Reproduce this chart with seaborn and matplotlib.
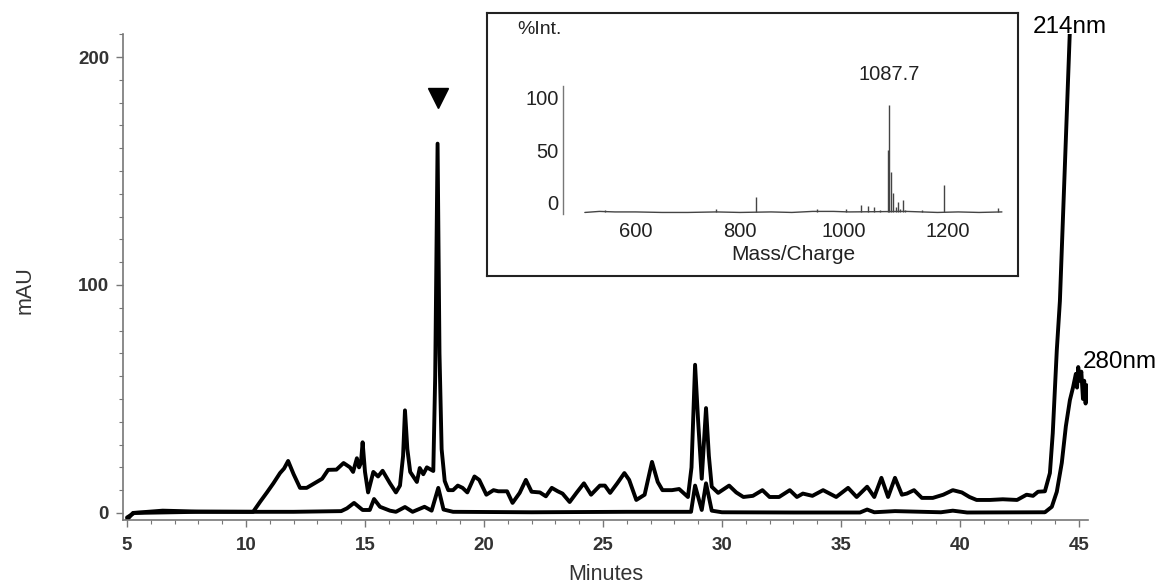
import numpy as np
import pandas as pd
import matplotlib
matplotlib.use('Agg')
import matplotlib.pyplot as plt
import seaborn as sns

# HPLC trace at 214 nm (minutes, mAU)
t214 = [5.0, 5.25, 6.5, 8.0, 10.3, 10.6, 10.88, 11.15, 11.43, 11.6,
        11.77, 12.0, 12.27, 12.55, 12.97, 13.2, 13.45, 13.8, 14.1, 14.37,
        14.5, 14.58, 14.66, 14.75, 14.83, 14.9, 15.0, 15.13, 15.35, 15.55,
        15.74, 16.05, 16.3, 16.47, 16.6, 16.68, 16.78, 16.9, 17.18, 17.3,
        17.45, 17.6, 17.87, 17.95, 18.05, 18.13, 18.22, 18.35, 18.5, 18.7,
        18.9, 19.1, 19.3, 19.6, 19.8, 20.1, 20.4, 20.6, 20.97, 21.2,
        21.5, 21.76, 22.0, 22.35, 22.6, 22.85, 23.1, 23.3, 23.6, 23.9,
        24.2, 24.5, 24.87, 25.08, 25.3, 25.6, 25.9, 26.1, 26.4, 26.75,
        27.06, 27.3, 27.5, 27.9, 28.2, 28.57, 28.72, 28.87, 29.0, 29.15,
        29.33, 29.45, 29.57, 29.84, 30.3, 30.6, 30.9, 31.3, 31.7, 32.0,
        32.4, 32.85, 33.15, 33.4, 33.8, 34.25, 34.8, 35.3, 35.66, 36.1,
        36.4, 36.7, 36.98, 37.27, 37.56, 37.77, 38.07, 38.4, 38.86, 39.3,
        39.7, 40.08, 40.4, 40.7, 41.26, 41.8, 42.4, 42.8, 43.07, 43.28,
        43.57, 43.78, 43.9, 44.07, 44.2, 44.4, 44.62]
v214 = [-3, 0, 1, 0.6, 0.5, 5, 9, 13, 17.5, 19.5,
        22.8, 17, 11, 11, 13.6, 15, 18.9, 19, 21.9, 20,
        18, 21, 24, 20, 22, 31, 18, 9, 18, 16,
        18.5, 13, 9, 12, 25, 45, 28, 18, 13.6, 19.7,
        17, 20, 18.4, 60, 162, 70, 28, 14, 10, 10,
        12, 11, 9, 16, 14.5, 8, 10, 9.5, 9.5, 4.4,
        8.8, 14.5, 9.3, 9, 7.3, 11, 9.5, 8.5, 4.8, 9,
        13, 8, 12, 12, 8.8, 13, 17.5, 14.5, 5.7, 8,
        22.4, 13.6, 10, 10, 10.5, 7, 20, 65, 40, 15,
        46, 25, 11.5, 8.8, 12, 9, 7, 7.5, 10, 7,
        7, 10, 7, 8.5, 7.5, 10, 7, 11, 7, 11.5,
        7, 15.4, 7, 15.4, 8, 8.5, 10, 6.6, 6.6, 8,
        10, 9, 7, 5.7, 5.7, 6, 5.7, 8, 7.5, 9.3,
        9.5, 17.5, 35, 71.5, 93, 150, 212]

# HPLC trace at 280 nm
t280 = [5.0, 5.3, 8.0, 10.0, 12.0, 14.0, 14.24, 14.54, 14.9, 15.2,
        15.38, 15.63, 16.05, 16.3, 16.68, 17.0, 17.5, 17.8, 18.08, 18.3,
        18.7, 22.0, 26.0, 28.7, 28.87, 29.15, 29.33, 29.57, 30.0, 33.0,
        35.8, 36.1, 36.4, 37.27, 39.2, 39.7, 40.3, 43.57, 43.86, 44.07,
        44.28, 44.45, 44.62, 44.75, 44.87, 44.92, 44.97, 45.03, 45.1, 45.17,
        45.22, 45.28, 45.33]
v280 = [-2, 0, 0.5, 0.5, 0.5, 0.8, 2, 4.4, 1.3, 1.3,
        6.1, 2.7, 1, 0.5, 2.6, 0.5, 2.7, 1, 11, 1.5,
        0.5, 0.3, 0.5, 0.5, 12, 1.3, 13, 1, 0.3, 0.2,
        0.2, 1.5, 0.3, 0.8, 0.3, 1, 0.2, 0.3, 2.7, 9.3,
        22, 38, 49.5, 55, 61, 55, 64, 58, 62, 50,
        58, 48, 56]

# collected fraction marker
marker_time = 18.05
marker_mau = 182

# MS spectrum of the fraction (m/z, %Int.)
mz_base = [502, 530, 560, 600, 650, 700, 755, 800, 860, 900,
           940, 980, 1010, 1120, 1150, 1180, 1220, 1260, 1304]
int_base = [-10, -9, -9.5, -9.5, -10, -10, -9.5, -10, -9.5, -10,
            -9, -9, -9.5, -9, -9.5, -10, -9.5, -10, -9.5]
peak_mz = [540, 755, 831, 948, 1005, 1033, 1046, 1058, 1069, 1084.5,
           1087.7, 1090.5, 1094, 1100, 1104, 1108, 1113, 1117, 1150, 1192, 1296]
peak_int = [-8, -7, 5, -7, -7, -3, -4, -5, -8, 50,
            93, 29, 9, -5, 0, -7, 2, -8, -8, 16, -6]
ms_label = '1087.7'

df = pd.concat([
    pd.DataFrame({'time': t214, 'mAU': v214, 'trace': '214nm'}),
    pd.DataFrame({'time': t280, 'mAU': v280, 'trace': '280nm'}),
])

sns.set_theme(style='ticks')
plt.rcParams['font.family'] = ['Liberation Sans', 'DejaVu Sans']

fig = plt.figure(figsize=(11.7, 5.86), dpi=100)
ax = fig.add_axes([0.1051, 0.1126, 0.8248, 0.8294])

sns.lineplot(data=df, x='time', y='mAU', hue='trace',
             palette={'214nm': 'black', '280nm': 'black'},
             estimator=None, legend=False, linewidth=2.8, ax=ax,
             solid_joinstyle='round', solid_capstyle='round')
ax.plot(marker_time, marker_mau, marker='v', ms=14, color='black')

ax.set_xlim(4.83, 45.38)
ax.set_ylim(-3.1, 210.1)
ax.set_xticks(np.arange(5, 46, 5))
ax.set_xticks(np.arange(5, 46, 1), minor=True)
ax.set_yticks([0, 100, 200])
ax.set_yticks(np.arange(0, 211, 10), minor=True)
sns.despine(ax=ax)
for s in ['left', 'bottom']:
    ax.spines[s].set_color('#777777')
    ax.spines[s].set_linewidth(1.2)
ax.tick_params(which='major', length=5, width=1, color='#777777', labelcolor='#333333')
ax.tick_params(which='minor', length=3, width=0.8, color='#777777')
ax.tick_params(axis='x', which='major', pad=7)
ax.tick_params(axis='y', which='major', pad=5)
for lab in ax.get_xticklabels() + ax.get_yticklabels():
    lab.set_fontsize(13.5)
    lab.set_fontweight('bold')

ax.set_xlabel('Minutes', fontsize=15.5, color='#333333')
ax.xaxis.set_label_coords(0.5, -0.09)
ax.set_ylabel('')
fig.text(0.021, 0.505, 'mAU', rotation=90, fontsize=15.5, color='#333333',
         ha='center', va='center')

ax.text(43.07, 210.5, '214nm', fontsize=17.5, color='black', clip_on=False)
ax.text(45.17, 63.6, '280nm', fontsize=17.5, color='black', clip_on=False)

# inset frame
frame = fig.add_axes([0.4162, 0.529, 0.4538, 0.4488])
frame.set_xticks([])
frame.set_yticks([])
frame.set_facecolor('white')
for s in frame.spines.values():
    s.set_color('#222222')
    s.set_linewidth(1.5)

ins = fig.add_axes([0.4812, 0.6348, 0.3778, 0.2184])
ins.set_facecolor('none')
ins.plot(mz_base, int_base, color='#444444', lw=1)
ins.vlines(peak_mz, -10, peak_int, color='#444444', lw=1)
ins.set_xlim(460, 1310)
ins.set_ylim(-11.5, 111.5)
ins.set_xticks([600, 800, 1000, 1200])
ins.set_yticks([0, 50, 100])
for s in ['top', 'right', 'bottom']:
    ins.spines[s].set_visible(False)
ins.spines['left'].set_color('#777777')
ins.spines['left'].set_linewidth(1)
ins.tick_params(axis='x', length=0, pad=6, labelsize=14.5, labelcolor='#222222')
ins.tick_params(axis='y', length=0, pad=3, labelsize=14.5, labelcolor='#222222')
ins.text(1087.7, 123, ms_label, ha='center', va='center', fontsize=14.5,
         color='#222222', clip_on=False)
ins.text(0.52, -0.32, 'Mass/Charge', transform=ins.transAxes, ha='center',
         va='center', fontsize=15, color='#222222')
fig.text(0.442, 0.95, '%Int.', ha='left', va='center', fontsize=14, color='#222222')

fig.savefig('out.png', dpi=100)
